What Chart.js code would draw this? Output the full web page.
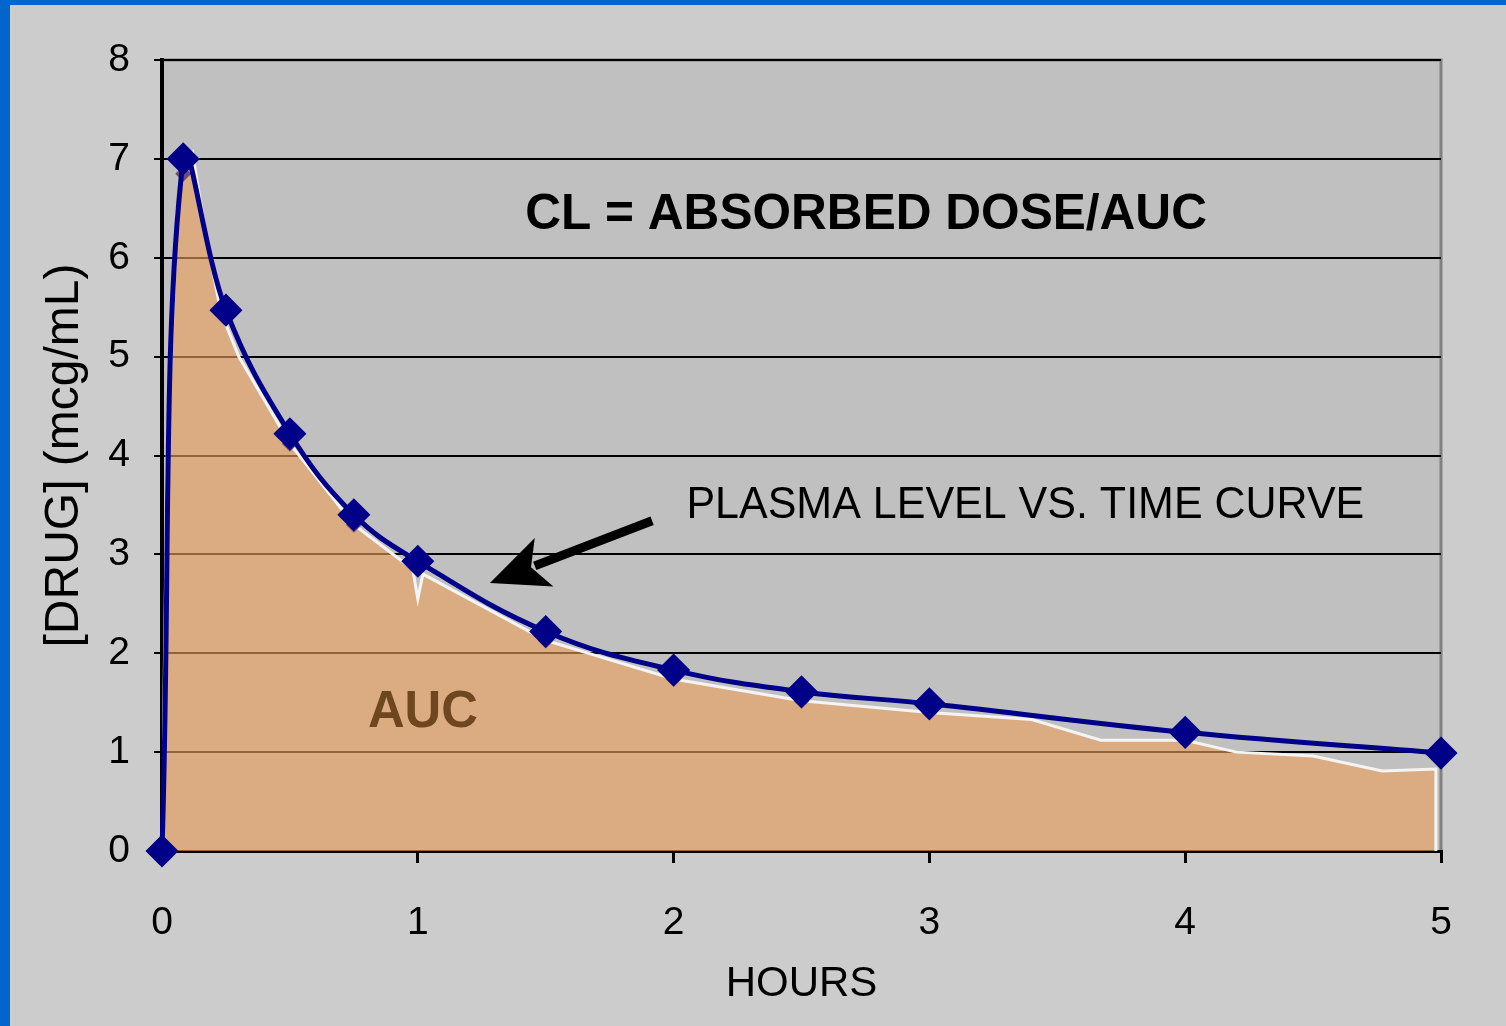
<!DOCTYPE html>
<html>
<head>
<meta charset="utf-8">
<script src="https://cdn.jsdelivr.net/npm/chart.js@4.4.1/dist/chart.umd.min.js"></script>
<style>
  html, body { margin: 0; padding: 0; background: #cccccc; }
  #wrap { width: 1506px; height: 1026px; position: relative; }
</style>
</head>
<body>
<div id="wrap"><canvas id="auc_chart" width="1506" height="1026"></canvas></div>
<script>
// measured plasma level (blue line with diamonds)
const hours = [0, 0.083, 0.25, 0.5, 0.75, 1, 1.5, 2, 2.5, 3, 4, 5];
const drug  = [0, 7.0, 5.47, 4.22, 3.4, 2.93, 2.22, 1.83, 1.61, 1.49, 1.2, 0.99];

// shaded AUC outline (sits a little under the line)
const aucHours = [0, 0.02, 0.06, 0.083, 0.12, 0.17, 0.23, 0.3, 0.5, 0.75, 0.98, 1.0, 1.02, 1.5, 2, 2.5, 3, 3.4, 3.67, 4, 4.2, 4.5, 4.77, 4.98, 4.98];
const aucDrug  = [0, 4.0, 6.5, 6.85, 7.05, 6.25, 5.45, 5.0, 4.12, 3.3, 2.85, 2.55, 2.8, 2.13, 1.74, 1.52, 1.4, 1.33, 1.12, 1.12, 1.0, 0.96, 0.81, 0.83, 0];
const aucMarks = [0.083, 0.23, 0.5, 0.75, 1.5, 2, 2.5, 3, 4];

const yTicks = [0, 1, 2, 3, 4, 5, 6, 7, 8];

let linePts = hours.map((h, i) => ({x: h, y: drug[i]}));
let aucPts = aucHours.map((h, i) => ({x: h, y: aucDrug[i]}));

const FONT = "'Liberation Sans', Arial, sans-serif";

// background, plot fill, frame, blue window edge
const backdrop = {
  id: 'backdrop',
  beforeDraw(chart) {
    const c = chart.ctx, a = chart.chartArea;
    c.save();
    c.fillStyle = '#cccccc';
    c.fillRect(0, 0, chart.width, chart.height);
    c.fillStyle = '#0066cc';
    c.fillRect(0, 0, 10, chart.height);
    c.fillRect(0, 0, chart.width, 5);
    c.fillStyle = '#c0c0c0';
    c.fillRect(a.left, a.top, a.right - a.left, a.bottom - a.top);
    c.strokeStyle = '#808080';
    c.lineWidth = 3;
    c.beginPath();
    c.moveTo(a.left, a.top);
    c.lineTo(a.right, a.top);
    c.lineTo(a.right, a.bottom);
    c.stroke();
    c.restore();
  }
};

// squeeze text into a width given in hours
function fitText(c, txt, font, x1, x2, yc, color) {
  c.font = font;
  const w = c.measureText(txt).width;
  c.save();
  c.translate(x1, yc);
  c.scale((x2 - x1) / w, 1);
  c.fillStyle = color;
  c.textBaseline = 'middle';
  c.textAlign = 'left';
  c.fillText(txt, 0, 0);
  c.restore();
}

const notes = {
  id: 'notes',
  afterDatasetsDraw(chart) {
    const c = chart.ctx, xs = chart.scales.x, ys = chart.scales.y;
    fitText(c, 'CL = ABSORBED DOSE/AUC', 'bold 50px ' + FONT,
      xs.getPixelForValue(1.42), xs.getPixelForValue(4.085), ys.getPixelForValue(6.43), '#000');
    fitText(c, 'PLASMA LEVEL VS. TIME CURVE', '45px ' + FONT,
      xs.getPixelForValue(2.05), xs.getPixelForValue(4.70), ys.getPixelForValue(3.49), '#000');
    fitText(c, 'AUC', 'bold 52px ' + FONT,
      xs.getPixelForValue(0.805), xs.getPixelForValue(1.235), ys.getPixelForValue(1.4), '#6e4620');

    // arrow
    const x0 = xs.getPixelForValue(1.916), y0 = ys.getPixelForValue(3.34);
    const x1 = xs.getPixelForValue(1.282), y1 = ys.getPixelForValue(2.71);
    const ang = Math.atan2(y1 - y0, x1 - x0);
    const hl = 58, hw = 26;
    const bx = x1 - hl * Math.cos(ang), by = y1 - hl * Math.sin(ang);
    c.save();
    c.strokeStyle = '#000';
    c.lineWidth = 9;
    c.beginPath();
    c.moveTo(x0, y0);
    c.lineTo(bx + 10 * Math.cos(ang), by + 10 * Math.sin(ang));
    c.stroke();
    c.fillStyle = '#000';
    c.beginPath();
    c.moveTo(x1, y1);
    c.lineTo(bx + hw * Math.sin(ang), by - hw * Math.cos(ang));
    c.lineTo(bx + 14 * Math.cos(ang), by + 14 * Math.sin(ang));
    c.lineTo(bx - hw * Math.sin(ang), by + hw * Math.cos(ang));
    c.closePath();
    c.fill();
    c.restore();
  }
};

new Chart(document.getElementById('auc_chart'), {
  type: 'line',
  data: {
    datasets: [{
      label: 'Plasma level',
      data: linePts,
      borderColor: '#000088',
      backgroundColor: '#000088',
      borderWidth: 5,
      tension: 0.4,
      pointStyle: 'rectRot',
      pointRadius: 13,
      pointHoverRadius: 13,
      fill: false,
      clip: false,
      order: 1
    }, {
      label: 'AUC',
      data: aucPts,
      borderColor: '#f4f4f4',
      borderWidth: 3,
      backgroundColor: 'rgba(236, 160, 90, 0.62)',
      pointBackgroundColor: '#6a4a78',
      pointBorderWidth: 0,
      pointStyle: 'rectRot',
      pointRadius: ctx => aucMarks.includes(ctx.raw.x) ? 8 : 0,
      tension: 0,
      fill: 'origin',
      order: 2
    }]
  },
  options: {
    responsive: false,
    animation: false,
    events: [],
    layout: { padding: { top: 60, right: 65, left: 0, bottom: 0 } },
    plugins: { legend: { display: false }, tooltip: { enabled: false } },
    scales: {
      x: {
        type: 'linear',
        min: 0, max: 5,
        afterFit: s => { s.height = 175; },
        ticks: { stepSize: 1, color: '#000', padding: 37, font: { family: FONT, size: 39 } },
        grid: { drawOnChartArea: false, color: '#000', lineWidth: 3, tickLength: 12 },
        border: { color: '#000', width: 3 },
        title: { display: true, text: 'HOURS', color: '#000', font: { family: FONT, size: 42 }, padding: { top: 0, bottom: 16 } }
      },
      y: {
        min: 0, max: 8,
        afterFit: s => { s.width = 162; },
        afterBuildTicks: s => { s.ticks = yTicks.map(v => ({value: v})); },
        ticks: { color: '#000', padding: 24, font: { family: FONT, size: 39 } },
        grid: { color: '#000', lineWidth: 2, tickLength: 8 },
        border: { color: '#000', width: 4 },
        title: { display: true, text: '[DRUG] (mcg/mL)', color: '#000', font: { family: FONT, size: 48 }, padding: { top: 36, bottom: 0 } }
      }
    }
  },
  plugins: [backdrop, notes]
});
</script>
</body>
</html>
